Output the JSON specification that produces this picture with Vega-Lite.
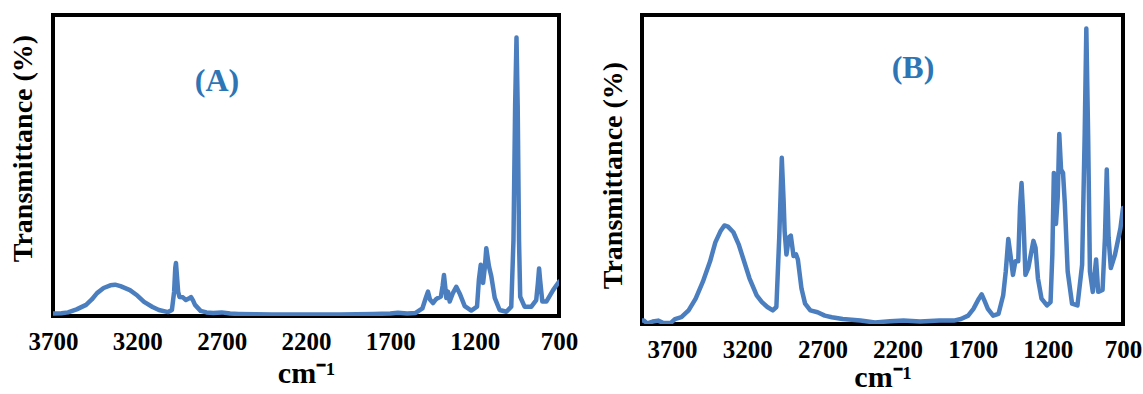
{
  "$schema": "https://vega.github.io/schema/vega-lite/v6.json",
  "background": "white",
  "padding": {"left": 6, "top": 8, "right": 0, "bottom": 0},
  "autosize": {"type": "pad"},
  "spacing": 17,
  "align": "none",
  "config": {
    "view": {"stroke": "black", "strokeWidth": 4},
    "font": "Liberation Serif",
    "axis": {"grid": false, "domain": false, "ticks": false, "labelFont": "Liberation Serif", "titleFont": "Liberation Serif", "labelColor": "black", "titleColor": "black", "labelFontWeight": "bold", "titleFontWeight": "bold"}
  },
  "datasets": {
    "specA": [
      {"w": 3700, "t": 0.8}, {"w": 3650, "t": 0.9}, {"w": 3611, "t": 1.2}, {"w": 3560, "t": 2.2}, {"w": 3504, "t": 3.7}, {"w": 3470, "t": 5.5}, {"w": 3439, "t": 7.6}, {"w": 3400, "t": 9.3}, {"w": 3360, "t": 10.2}, {"w": 3332, "t": 10.4}, {"w": 3300, "t": 9.9}, {"w": 3244, "t": 8.6}, {"w": 3200, "t": 6.8}, {"w": 3160, "t": 4.7}, {"w": 3110, "t": 3.0}, {"w": 3072, "t": 2.0}, {"w": 3018, "t": 1.3}, {"w": 2995, "t": 2.0}, {"w": 2982, "t": 8}, {"w": 2975, "t": 16}, {"w": 2971, "t": 17.6}, {"w": 2966, "t": 14}, {"w": 2958, "t": 8}, {"w": 2950, "t": 6.3}, {"w": 2930, "t": 6.2}, {"w": 2912, "t": 5.3}, {"w": 2895, "t": 5.8}, {"w": 2882, "t": 6.3}, {"w": 2870, "t": 5.2}, {"w": 2858, "t": 3.7}, {"w": 2825, "t": 1.7}, {"w": 2790, "t": 1.2}, {"w": 2750, "t": 1.0}, {"w": 2700, "t": 1.2}, {"w": 2650, "t": 0.8}, {"w": 2600, "t": 0.7}, {"w": 2500, "t": 0.6}, {"w": 2400, "t": 0.5}, {"w": 2300, "t": 0.5}, {"w": 2200, "t": 0.5}, {"w": 2100, "t": 0.5}, {"w": 2000, "t": 0.5}, {"w": 1900, "t": 0.6}, {"w": 1800, "t": 0.7}, {"w": 1700, "t": 0.8}, {"w": 1655, "t": 1.1}, {"w": 1600, "t": 0.8}, {"w": 1550, "t": 1.0}, {"w": 1510, "t": 2.5}, {"w": 1490, "t": 6}, {"w": 1477, "t": 8.1}, {"w": 1465, "t": 5.5}, {"w": 1447, "t": 4.3}, {"w": 1430, "t": 5.5}, {"w": 1417, "t": 6.0}, {"w": 1400, "t": 6.5}, {"w": 1390, "t": 10}, {"w": 1382, "t": 13.6}, {"w": 1375, "t": 10}, {"w": 1368, "t": 6.0}, {"w": 1358, "t": 8.1}, {"w": 1348, "t": 4.8}, {"w": 1330, "t": 7.5}, {"w": 1309, "t": 9.7}, {"w": 1289, "t": 7.5}, {"w": 1259, "t": 3.3}, {"w": 1220, "t": 1.8}, {"w": 1186, "t": 3.1}, {"w": 1175, "t": 12}, {"w": 1164, "t": 17}, {"w": 1150, "t": 11}, {"w": 1140, "t": 16}, {"w": 1131, "t": 22.5}, {"w": 1122, "t": 19}, {"w": 1115, "t": 16.4}, {"w": 1101, "t": 13.1}, {"w": 1081, "t": 6.0}, {"w": 1052, "t": 2.0}, {"w": 1012, "t": 1.4}, {"w": 983, "t": 3.1}, {"w": 970, "t": 25}, {"w": 960, "t": 70}, {"w": 952, "t": 92.5}, {"w": 945, "t": 70}, {"w": 937, "t": 25}, {"w": 930, "t": 6.4}, {"w": 904, "t": 3.1}, {"w": 864, "t": 3.1}, {"w": 835, "t": 5.3}, {"w": 825, "t": 11}, {"w": 818, "t": 15.8}, {"w": 812, "t": 12}, {"w": 808, "t": 9.7}, {"w": 799, "t": 4.8}, {"w": 775, "t": 4.8}, {"w": 735, "t": 8.6}, {"w": 700, "t": 11.4}
    ],
    "specB": [
      {"w": 3900, "t": 1.1}, {"w": 3888, "t": 1.1}, {"w": 3865, "t": 0.2}, {"w": 3829, "t": 0.8}, {"w": 3793, "t": 1.1}, {"w": 3757, "t": 0.3}, {"w": 3710, "t": 0.3}, {"w": 3681, "t": 1.6}, {"w": 3638, "t": 2.2}, {"w": 3590, "t": 4.4}, {"w": 3543, "t": 8.2}, {"w": 3495, "t": 13.7}, {"w": 3447, "t": 20.3}, {"w": 3412, "t": 26.4}, {"w": 3376, "t": 30.2}, {"w": 3352, "t": 31.9}, {"w": 3328, "t": 31.5}, {"w": 3292, "t": 29.7}, {"w": 3257, "t": 25.8}, {"w": 3221, "t": 20.3}, {"w": 3185, "t": 14.8}, {"w": 3137, "t": 9.3}, {"w": 3102, "t": 7.1}, {"w": 3066, "t": 5.5}, {"w": 3030, "t": 4.4}, {"w": 3006, "t": 5.5}, {"w": 2987, "t": 28}, {"w": 2970, "t": 53.8}, {"w": 2958, "t": 40}, {"w": 2951, "t": 30}, {"w": 2939, "t": 22.5}, {"w": 2923, "t": 28}, {"w": 2910, "t": 28.6}, {"w": 2900, "t": 25}, {"w": 2892, "t": 22}, {"w": 2875, "t": 22.5}, {"w": 2863, "t": 20.9}, {"w": 2839, "t": 11.5}, {"w": 2815, "t": 6.6}, {"w": 2780, "t": 4.4}, {"w": 2732, "t": 3.8}, {"w": 2684, "t": 2.7}, {"w": 2637, "t": 2.2}, {"w": 2565, "t": 1.6}, {"w": 2446, "t": 1.1}, {"w": 2350, "t": 0.5}, {"w": 2250, "t": 0.9}, {"w": 2160, "t": 1.1}, {"w": 2050, "t": 0.8}, {"w": 1921, "t": 1.1}, {"w": 1826, "t": 1.1}, {"w": 1778, "t": 1.6}, {"w": 1730, "t": 2.7}, {"w": 1695, "t": 4.9}, {"w": 1659, "t": 8.2}, {"w": 1640, "t": 9.6}, {"w": 1623, "t": 7.7}, {"w": 1599, "t": 4.9}, {"w": 1564, "t": 2.7}, {"w": 1528, "t": 3.3}, {"w": 1497, "t": 9.3}, {"w": 1480, "t": 17}, {"w": 1463, "t": 27.5}, {"w": 1449, "t": 22.5}, {"w": 1432, "t": 15.9}, {"w": 1416, "t": 20.3}, {"w": 1397, "t": 20.3}, {"w": 1385, "t": 38}, {"w": 1375, "t": 45.6}, {"w": 1363, "t": 34.6}, {"w": 1349, "t": 15.9}, {"w": 1330, "t": 18.1}, {"w": 1313, "t": 22.5}, {"w": 1296, "t": 26.9}, {"w": 1282, "t": 24.7}, {"w": 1266, "t": 14.8}, {"w": 1242, "t": 8.2}, {"w": 1206, "t": 6}, {"w": 1182, "t": 7.1}, {"w": 1170, "t": 22.5}, {"w": 1160, "t": 48.9}, {"w": 1146, "t": 32.4}, {"w": 1134, "t": 41.2}, {"w": 1124, "t": 61.5}, {"w": 1112, "t": 50}, {"w": 1099, "t": 48.9}, {"w": 1087, "t": 39}, {"w": 1068, "t": 17}, {"w": 1039, "t": 6.6}, {"w": 1003, "t": 6}, {"w": 972, "t": 19.2}, {"w": 955, "t": 61}, {"w": 944, "t": 95.6}, {"w": 932, "t": 61}, {"w": 920, "t": 17}, {"w": 901, "t": 10.4}, {"w": 879, "t": 20.9}, {"w": 865, "t": 10.4}, {"w": 836, "t": 11}, {"w": 820, "t": 28}, {"w": 808, "t": 50}, {"w": 796, "t": 28}, {"w": 781, "t": 18.1}, {"w": 753, "t": 22.5}, {"w": 717, "t": 31}, {"w": 700, "t": 37.5}
    ]
  },
  "hconcat": [
    {
      "title": {"text": " ", "fontSize": 5, "offset": 0},
      "width": 506,
      "height": 301,
      "layer": [
        {
          "data": {"name": "specA"},
          "mark": {"type": "line", "color": "#4A7EBF", "strokeWidth": 4.5, "strokeJoin": "round", "strokeCap": "round", "clip": true},
          "encoding": {
            "x": {"field": "w", "type": "quantitative", "scale": {"domain": [3700, 700], "nice": false, "zero": false}, "axis": {"values": [3700, 3200, 2700, 2200, 1700, 1200, 700], "format": "d", "labelFlush": false, "labelOverlap": false, "labelBound": false, "labelFontSize": 25, "labelPadding": 13, "title": "cm⁻¹", "titleFontSize": 30, "titlePadding": 4}},
            "y": {"field": "t", "type": "quantitative", "scale": {"domain": [0, 100], "nice": false}, "axis": {"labels": false, "title": "Transmittance (%)", "titleFontSize": 28, "titleX": -30, "titleY": 133, "titleAlign": "center", "titleBaseline": "middle"}}
          }
        },
        {
          "data": {"values": [{"w": 2728, "t": 78, "label": "(A)"}]},
          "mark": {"type": "text", "color": "#2E75B6", "fontSize": 32, "fontWeight": "bold", "font": "Liberation Serif", "align": "center", "baseline": "middle"},
          "encoding": {
            "x": {"field": "w", "type": "quantitative"},
            "y": {"field": "t", "type": "quantitative"},
            "text": {"field": "label"}
          }
        }
      ]
    },
    {
      "width": 481,
      "height": 309,
      "layer": [
        {
          "data": {"name": "specB"},
          "mark": {"type": "line", "color": "#4A7EBF", "strokeWidth": 4.5, "strokeJoin": "round", "strokeCap": "round", "clip": true},
          "encoding": {
            "x": {"field": "w", "type": "quantitative", "scale": {"domain": [3900, 700], "nice": false, "zero": false}, "axis": {"values": [3700, 3200, 2700, 2200, 1700, 1200, 700], "format": "d", "labelFlush": false, "labelOverlap": false, "labelBound": false, "labelFontSize": 25, "labelPadding": 13, "title": "cm⁻¹", "titleFontSize": 30, "titlePadding": 0}},
            "y": {"field": "t", "type": "quantitative", "scale": {"domain": [0, 100], "nice": false}, "axis": {"labels": false, "title": "Transmittance (%)", "titleFontSize": 28, "titleX": -29, "titleY": 160, "titleAlign": "center", "titleBaseline": "middle"}}
          }
        },
        {
          "data": {"values": [{"w": 2097, "t": 83, "label": "(B)"}]},
          "mark": {"type": "text", "color": "#2E75B6", "fontSize": 32, "fontWeight": "bold", "font": "Liberation Serif", "align": "center", "baseline": "middle"},
          "encoding": {
            "x": {"field": "w", "type": "quantitative"},
            "y": {"field": "t", "type": "quantitative"},
            "text": {"field": "label"}
          }
        }
      ]
    }
  ]
}
